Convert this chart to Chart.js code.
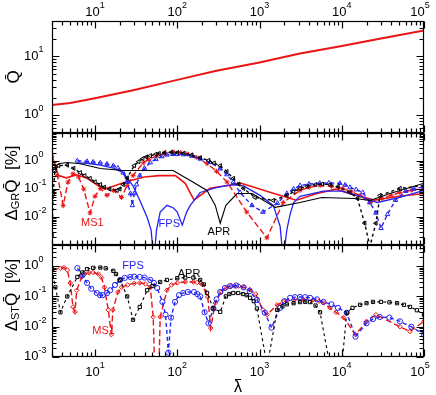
<!DOCTYPE html>
<html>
<head>
<meta charset="utf-8">
<script src="https://cdn.jsdelivr.net/npm/chart.js@4.4.1/dist/chart.umd.min.js"></script>
<style>
  html, body { margin: 0; padding: 0; background: #fff; }
  canvas { display: block; }
</style>
</head>
<body>
<canvas id="chart" width="436" height="395"></canvas>
<script>
// axis ranges
const lamMin = 3, lamMax = 1e5;
const qRange = [0.5, 40];
const grRange = [1e-3, 10];
const stRange = [1e-3, 5];

// decade labels (exponents)
const xLabelExps = [1, 2, 3, 4, 5];
const qLabelExps = [0, 1];
const grLabelExps = [-2, -1, 0];
const stLabelExps = [-3, -2, -1, 0];

// top panel: Q bar
const qLam = [3, 5, 10, 30, 100, 300, 1000, 3000, 1e4, 3e4, 1e5];
const qVal = [1.49, 1.62, 1.95, 2.7, 4.0, 5.7, 7.9, 11.1, 15, 20.2, 27.5];

// middle panel: Delta_GR Q
const grMs1Lam = [3.0, 3.6, 4.5, 6, 8, 11, 13, 16, 25, 40, 60, 95, 125, 160, 250, 600, 1500, 2800, 5000, 8500, 14000, 25000, 50000, 1e5];
const grMs1Val = [1.48, 0.30, 0.25, 0.32, 0.24, 0.129, 0.099, 0.121, 0.19, 0.27, 0.30, 0.30, 0.16, 0.040, 0.106, 0.16, 0.069, 0.040, 0.069, 0.099, 0.062, 0.040, 0.055, 0.069];

const grMs1dLam = [3.0, 3.5, 4.1, 4.7, 5.4, 6.3, 7.3, 8.7, 10, 11.6, 14, 16.7, 21, 24.6, 29, 38.6, 45, 57, 70, 89, 110, 132, 170, 231, 300, 404, 700, 1230, 1940, 3100, 4000, 5450, 7500, 10300, 13000, 16700, 22000, 31000, 40000, 51000, 70000, 1e5];
const grMs1dVal = [1.48, 0.30, 0.026, 0.176, 0.35, 0.27, 0.099, 0.014, 0.055, 0.105, 0.059, 0.089, 0.050, 0.133, 0.30, 0.86, 1.15, 1.54, 1.85, 2.12, 2.0, 1.80, 1.35, 0.80, 0.43, 0.176, 0.015, 0.0018, 0.033, 0.089, 0.115, 0.133, 0.125, 0.105, 0.08, 0.059, 0.033, 0.046, 0.06, 0.075, 0.09, 0.105];

const grFpsLam = [6.1, 8, 11.6, 16.7, 22, 24.6, 29, 35, 43, 48, 52, 56, 62, 75, 90, 100, 115, 130, 144, 190, 305, 480, 640, 1016, 1470, 1780, 1940, 2150, 2355, 2600, 3110, 6000, 10000, 16700, 22000, 27000, 51000, 1e5];
const grFpsVal = [0.86, 0.83, 0.71, 0.56, 0.38, 0.25, 0.129, 0.040, 0.0098, 0.0035, 0.0003, 0.0035, 0.015, 0.026, 0.021, 0.015, 0.0051, 0.015, 0.026, 0.075, 0.114, 0.144, 0.129, 0.059, 0.026, 0.0047, 0.0003, 0.0035, 0.0125, 0.033, 0.055, 0.084, 0.084, 0.055, 0.040, 0.033, 0.050, 0.089];

const grFpsdLam = [6.1, 8, 9.5, 11.6, 14, 16.7, 19, 22, 24.6, 27, 28.5, 30, 32, 35, 40, 47, 55, 65, 75, 88, 100, 120, 150, 190, 250, 333, 400, 480, 580, 810, 1100, 1650, 2150, 2600, 3110, 4000, 5400, 7000, 9500, 11000, 12600, 15000, 18000, 22000, 26000, 30000, 36000, 45000, 60000, 75000, 1e5];
const grFpsdVal = [1.02, 0.96, 0.92, 0.86, 0.78, 0.68, 0.56, 0.38, 0.176, 0.069, 0.026, 0.069, 0.144, 0.30, 0.55, 0.88, 1.15, 1.45, 1.66, 1.75, 1.74, 1.7, 1.5, 1.19, 0.9, 0.53, 0.33, 0.176, 0.075, 0.026, 0.015, 0.031, 0.069, 0.1, 0.133, 0.15, 0.16, 0.165, 0.16, 0.14, 0.114, 0.095, 0.075, 0.033, 0.014, 0.0040, 0.0125, 0.040, 0.084, 0.1, 0.121];

const grAprLam = [3.0, 3.6, 4.6, 6.6, 11.6, 22, 47, 89, 144, 230, 290, 333, 390, 534, 815, 1550, 3110, 5700, 14500, 22000, 38600, 1e5];
const grAprVal = [0.46, 0.80, 0.88, 0.80, 0.54, 0.46, 0.46, 0.46, 0.20, 0.089, 0.026, 0.006, 0.026, 0.069, 0.069, 0.022, 0.033, 0.050, 0.046, 0.039, 0.069, 0.16];

const grAprdLam = [3.0, 3.1, 3.25, 3.6, 4.6, 5.5, 6.6, 7.5, 8.7, 10, 11.6, 13, 15, 18.5, 20, 22, 24.6, 30, 34, 38, 42, 47, 55, 60, 70, 85, 100, 120, 150, 190, 240, 280, 333, 400, 480, 560, 640, 880, 1470, 2150, 2600, 3110, 3800, 4800, 5800, 7200, 9000, 12600, 15500, 19000, 22000, 26000, 29200, 51000, 1e5];
const grAprdVal = [0.0023, 0.069, 0.46, 0.68, 0.71, 0.55, 0.38, 0.3, 0.24, 0.18, 0.144, 0.115, 0.099, 0.089, 0.1, 0.144, 0.25, 0.68, 0.95, 1.21, 1.4, 1.54, 1.75, 1.85, 2.0, 2.05, 2.0, 1.9, 1.65, 1.31, 1.05, 0.85, 0.68, 0.42, 0.24, 0.15, 0.105, 0.050, 0.039, 0.059, 0.08, 0.105, 0.125, 0.144, 0.15, 0.144, 0.12, 0.075, 0.046, 0.006, 0.0009, 0.006, 0.059, 0.105, 0.133];

// bottom panel: Delta_ST Q
const stMs1Lam = [3.0, 3.8, 4.2, 4.6, 5.0, 5.4, 5.7, 6.0, 6.9, 7.5, 8.5, 9.5, 11, 12, 13, 14.5, 15.8, 16.5, 19, 21, 25, 30, 35, 41, 47, 51, 53, 60, 62, 75, 85, 100, 125, 157, 175, 200, 235, 255, 290, 340, 400, 450, 500, 560, 650, 760, 900, 1100, 1240, 1640, 2000, 2600, 3400, 4500, 5300, 6000, 7200, 8500, 10500, 14700, 20000, 26000, 51000, 67600, 1e5];
const stMs1Val = [0.74, 0.85, 0.9, 0.74, 0.28, 0.045, 0.031, 0.16, 0.44, 0.55, 0.6, 0.62, 0.55, 0.42, 0.2, 0.036, 0.0055, 0.036, 0.14, 0.2, 0.24, 0.27, 0.28, 0.26, 0.2, 0.021, 0.0005, 0.0005, 0.021, 0.16, 0.24, 0.28, 0.3, 0.3, 0.29, 0.25, 0.096, 0.009, 0.061, 0.14, 0.2, 0.22, 0.22, 0.22, 0.2, 0.17, 0.12, 0.036, 0.025, 0.053, 0.068, 0.077, 0.08, 0.077, 0.07, 0.061, 0.042, 0.03, 0.02, 0.0055, 0.015, 0.025, 0.01, 0.007, 0.015];

const stFpsLam = [6.1, 7, 8.0, 9, 10.5, 11.5, 12.4, 14, 15.3, 17.5, 20.2, 23, 26.8, 30, 35, 40, 47, 52, 57, 66, 72, 78, 84, 94, 105, 118, 135, 160, 175, 190, 215, 240, 275, 300, 333, 380, 440, 520, 640, 760, 930, 1160, 1400, 1780, 2000, 2355, 2700, 3110, 3600, 4120, 5000, 6000, 7500, 9000, 11500, 14700, 20000, 24000, 29000, 38000, 51000, 70000, 1e5];
const stFpsVal = [0.86, 0.5, 0.28, 0.18, 0.13, 0.11, 0.11, 0.13, 0.16, 0.24, 0.35, 0.41, 0.44, 0.45, 0.44, 0.42, 0.35, 0.28, 0.19, 0.066, 0.025, 0.0014, 0.02, 0.066, 0.11, 0.13, 0.14, 0.14, 0.12, 0.1, 0.03, 0.013, 0.04, 0.08, 0.14, 0.19, 0.22, 0.23, 0.2, 0.15, 0.077, 0.029, 0.0093, 0.042, 0.07, 0.09, 0.095, 0.096, 0.095, 0.09, 0.08, 0.066, 0.055, 0.042, 0.029, 0.0047, 0.013, 0.018, 0.021, 0.02, 0.015, 0.01, 0.0055];

const stAprLam = [3.0, 3.3, 3.8, 4.6, 6.1, 7, 8.0, 9.5, 11.6, 13.5, 16.7, 18, 20.2, 24.6, 29, 35, 43, 50, 62, 75, 100, 125, 157, 190, 210, 230, 275, 333, 390, 430, 480, 550, 630, 700, 770, 850, 930, 1240, 1640, 1900, 2150, 2600, 3110, 3600, 4120, 4800, 5445, 7200, 10000, 11500, 13500, 16700, 20000, 24000, 30000, 38000, 47000, 57000, 67600, 82000, 1e5];
const stAprVal = [0.8, 0.2, 0.03, 0.1, 0.44, 0.62, 0.8, 0.88, 0.9, 0.85, 0.7, 0.55, 0.35, 0.1, 0.017, 0.045, 0.16, 0.22, 0.3, 0.35, 0.4, 0.42, 0.42, 0.35, 0.25, 0.13, 0.04, 0.031, 0.1, 0.12, 0.13, 0.13, 0.12, 0.11, 0.09, 0.07, 0.04, 0.0005, 0.036, 0.047, 0.055, 0.06, 0.065, 0.066, 0.065, 0.05, 0.03, 0.0005, 0.0005, 0.029, 0.042, 0.053, 0.06, 0.066, 0.066, 0.064, 0.06, 0.053, 0.045, 0.035, 0.025];

const RED = 'rgb(235,20,20)';
const BLUE = 'rgb(35,35,245)';
const BLACK = '#000';
const FONT = '"Liberation Sans", Arial, Helvetica, sans-serif';

const panels = ['yQ', 'yGR', 'yST'];

// text notes placed in data units
const notes = [
  { text: 'MS1', lam: 9.3, val: 0.0062, axis: 'yGR', color: RED },
  { text: 'FPS', lam: 80, val: 0.0055, axis: 'yGR', color: BLUE },
  { text: 'APR', lam: 321, val: 0.003, axis: 'yGR', color: BLACK },
  { text: 'FPS', lam: 29, val: 1.0, axis: 'yST', color: BLUE },
  { text: 'APR', lam: 139, val: 0.55, axis: 'yST', color: BLACK },
  { text: 'MS1', lam: 12.7, val: 0.0072, axis: 'yST', color: RED }
];

function pts(lams, vals) {
  return lams.map((l, i) => ({ x: l, y: vals[i] }));
}

function series(lams, vals, axis, color, extra) {
  return Object.assign({
    data: pts(lams, vals),
    xAxisID: 'x',
    yAxisID: axis,
    borderColor: color,
    backgroundColor: color,
    borderWidth: 1.4,
    pointRadius: 0,
    pointBorderColor: color,
    pointBackgroundColor: 'rgba(0,0,0,0)',
    pointBorderWidth: 1,
    tension: 0,
    fill: false
  }, extra || {});
}

function logTicks(min, max) {
  const out = [];
  for (let e = Math.floor(Math.log10(min)); e <= Math.ceil(Math.log10(max)); e++) {
    for (let m = 1; m < 10; m++) {
      const v = m * Math.pow(10, e);
      if (v >= min * 0.999 && v <= max * 1.001) out.push({ v: v, major: m === 1 });
    }
  }
  return out;
}

// draws "parts" as one run of text: [text, size, dy]
function richText(ctx, parts, x, y, align) {
  let w = 0;
  const widths = parts.map(p => {
    ctx.font = p[1] + 'px ' + FONT;
    const pw = ctx.measureText(p[0]).width;
    w += pw;
    return pw;
  });
  let cx = align === 'left' ? x : (align === 'right' ? x - w : x - w / 2);
  ctx.textAlign = 'left';
  ctx.textBaseline = 'middle';
  parts.forEach((p, i) => {
    ctx.font = p[1] + 'px ' + FONT;
    ctx.fillText(p[0], cx, y + p[2]);
    cx += widths[i];
  });
  return w;
}

function pow10(e) {
  return [['10', 13, 0], [String(e), 9, -6]];
}

const framePlugin = {
  id: 'framePlugin',
  beforeDatasetDraw(chart, args) {
    const ys = chart.scales[chart.data.datasets[args.index].yAxisID];
    const a = chart.chartArea;
    const ctx = chart.ctx;
    ctx.save();
    ctx.beginPath();
    ctx.rect(a.left, ys.top, a.right - a.left, ys.bottom - ys.top);
    ctx.clip();
  },
  afterDatasetDraw(chart) {
    chart.ctx.restore();
  },
  afterDraw(chart) {
    const ctx = chart.ctx;
    const a = chart.chartArea;
    const xs = chart.scales.x;
    ctx.save();
    ctx.strokeStyle = '#000';
    ctx.fillStyle = '#000';
    ctx.lineWidth = 1.2;
    const l = Math.round(a.left) + 0.5;
    const r = Math.round(a.right) - 0.5;
    panels.forEach(id => {
      const ys = chart.scales[id];
      const t = Math.round(ys.top) + 0.5;
      const b = Math.round(ys.bottom) - 0.5;
      ctx.strokeRect(l, t, r - l, b - t);
      ctx.beginPath();
      logTicks(lamMin, lamMax).forEach(tk => {
        const px = Math.round(xs.getPixelForValue(tk.v)) + 0.5;
        const len = tk.major ? 7 : 4;
        ctx.moveTo(px, b); ctx.lineTo(px, b - len);
        ctx.moveTo(px, t); ctx.lineTo(px, t + len);
      });
      logTicks(ys.min, ys.max).forEach(tk => {
        const py = Math.round(ys.getPixelForValue(tk.v)) + 0.5;
        const len = tk.major ? 7 : 4;
        ctx.moveTo(l, py); ctx.lineTo(l + len, py);
        ctx.moveTo(r, py); ctx.lineTo(r - len, py);
      });
      ctx.stroke();
    });

    // x tick labels, top and bottom
    const top = chart.scales.yQ.top;
    const bottom = chart.scales.yST.bottom;
    xLabelExps.forEach(e => {
      let cx = xs.getPixelForValue(Math.pow(10, e));
      if (cx + 10 > 430) cx = 420;
      richText(ctx, pow10(e), cx, top - 9, 'center');
      richText(ctx, pow10(e), cx, bottom + 15, 'center');
    });

    // y tick labels
    [['yQ', qLabelExps], ['yGR', grLabelExps], ['yST', stLabelExps]].forEach(([id, exps]) => {
      const ys = chart.scales[id];
      exps.forEach(e => {
        const py = ys.getPixelForValue(Math.pow(10, e));
        richText(ctx, pow10(e), 24, py - 0.5, 'left');
      });
    });

    // axis titles
    const mid = id => (chart.scales[id].top + chart.scales[id].bottom) / 2;
    ctx.save();
    ctx.translate(14, mid('yQ'));
    ctx.rotate(-Math.PI / 2);
    richText(ctx, [['Q\u0304', 17, 0]], 0, 0, 'center');
    ctx.restore();

    ctx.save();
    ctx.translate(12, mid('yGR') - 6);
    ctx.rotate(-Math.PI / 2);
    richText(ctx, [['\u0394', 17, 0], ['GR', 11, 4], ['Q\u0304  [%]', 17, 0]], 0, 0, 'center');
    ctx.restore();

    ctx.save();
    ctx.translate(12, mid('yST') - 6);
    ctx.rotate(-Math.PI / 2);
    richText(ctx, [['\u0394', 17, 0], ['ST', 11, 4], ['Q\u0304  [%]', 17, 0]], 0, 0, 'center');
    ctx.restore();

    // lambda bar
    const lx = (a.left + a.right) / 2;
    const lw = richText(ctx, [['\u03bb', 16, 0]], lx, bottom + 31, 'center');
    ctx.beginPath();
    ctx.lineWidth = 1;
    ctx.moveTo(lx - lw / 2 + 1, bottom + 22.5);
    ctx.lineTo(lx + lw / 2 - 1, bottom + 22.5);
    ctx.stroke();

    // curve names
    notes.forEach(n => {
      ctx.fillStyle = n.color;
      richText(ctx, [[n.text, 11, 0]], xs.getPixelForValue(n.lam), chart.scales[n.axis].getPixelForValue(n.val), 'center');
    });
    ctx.restore();
  }
};

const logAxis = (range, size) => ({
  type: 'logarithmic',
  position: 'left',
  stack: 'panels',
  stackWeight: 1,
  min: range[0],
  max: range[1],
  grid: { display: false },
  border: { display: false },
  ticks: { display: false },
  afterFit: s => { s.width = size; }
});

new Chart(document.getElementById('chart'), {
  type: 'line',
  data: {
    datasets: [
      series(qLam, qVal, 'yQ', RED, { borderWidth: 2 }),

      series(grAprLam, grAprVal, 'yGR', BLACK, { borderWidth: 1.1 }),
      series(grAprdLam, grAprdVal, 'yGR', BLACK, { borderDash: [3, 3], pointStyle: 'triangle', pointRotation: -90, pointRadius: 2.4 }),
      series(grFpsLam, grFpsVal, 'yGR', BLUE, { borderWidth: 1.3 }),
      series(grFpsdLam, grFpsdVal, 'yGR', BLUE, { borderDash: [4, 3], pointStyle: 'triangle', pointRadius: 2.6 }),
      series(grMs1Lam, grMs1Val, 'yGR', RED, { borderWidth: 1.6 }),
      series(grMs1dLam, grMs1dVal, 'yGR', RED, { borderDash: [6, 3], pointStyle: 'star', pointRadius: 2.5 }),

      series(stAprLam, stAprVal, 'yST', BLACK, { borderWidth: 1.1, borderDash: [3, 3], pointStyle: 'rect', pointRadius: 2.3 }),
      series(stFpsLam, stFpsVal, 'yST', BLUE, { borderDash: [4, 3], pointStyle: 'circle', pointRadius: 2.6 }),
      series(stMs1Lam, stMs1Val, 'yST', RED, { borderDash: [6, 3], pointStyle: 'rectRot', pointRadius: 2.3 })
    ]
  },
  options: {
    responsive: false,
    animation: false,
    devicePixelRatio: 1,
    layout: { padding: { left: 0, right: 12, top: 0, bottom: 0 } },
    plugins: { legend: { display: false }, tooltip: { enabled: false } },
    scales: {
      x: {
        type: 'logarithmic', position: 'bottom', min: lamMin, max: lamMax,
        grid: { display: false }, border: { display: false }, ticks: { display: false },
        afterFit: s => { s.height = 38; }
      },
      xTop: {
        type: 'logarithmic', position: 'top', min: lamMin, max: lamMax,
        grid: { display: false }, border: { display: false }, ticks: { display: false },
        afterFit: s => { s.height = 21; }
      },
      yST: logAxis(stRange, 52),
      yGR: logAxis(grRange, 52),
      yQ: logAxis(qRange, 52)
    }
  },
  plugins: [framePlugin]
});
</script>
</body>
</html>
